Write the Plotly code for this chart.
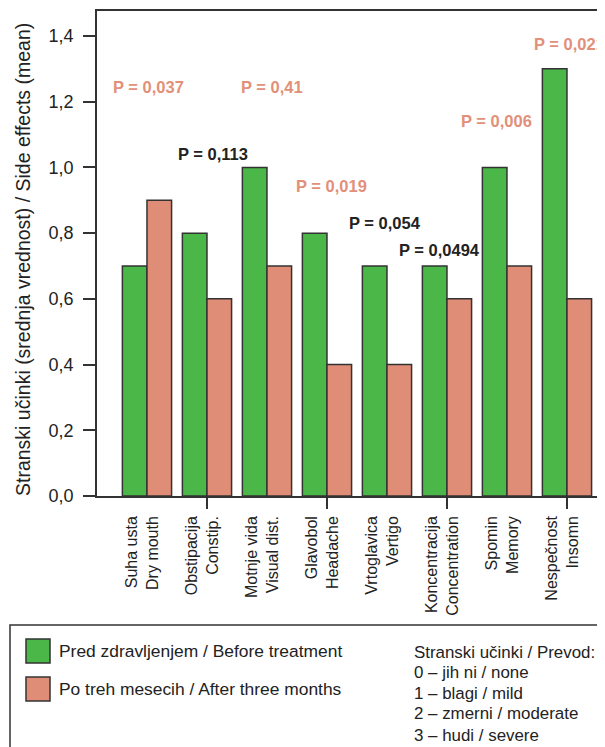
import plotly.graph_objects as go

# ---------------- data ----------------
categories = [
    "Suha usta<br>Dry mouth",
    "Obstipacija<br>Constip.",
    "Motnje vida<br>Visual dist.",
    "Glavobol<br>Headache",
    "Vrtoglavica<br>Vertigo",
    "Koncentracija<br>Concentration",
    "Spomin<br>Memory",
    "Nespečnost<br>Insomn",
]
before = [0.7, 0.8, 1.0, 0.8, 0.7, 0.7, 1.0, 1.3]
after = [0.9, 0.6, 0.7, 0.4, 0.4, 0.6, 0.7, 0.6]
p_labels = ["P = 0,037", "P = 0,113", "P = 0,41", "P = 0,019",
            "P = 0,054", "P = 0,0494", "P = 0,006", "P = 0,021"]
p_highlight = [True, False, True, True, False, False, True, True]
y_ticks = [0.0, 0.2, 0.4, 0.6, 0.8, 1.0, 1.2, 1.4]
legend_before = "Pred zdravljenjem / Before treatment"
legend_after = "Po treh mesecih / After three months"
scale_lines = ["Stranski učinki / Prevod:", "0 – jih ni / none", "1 – blagi / mild",
               "2 – zmerni / moderate", "3 – hudi / severe"]
y_title = "Stranski učinki (srednja vrednost) / Side effects (mean)"

# ---------------- layout constants ----------------
OFF = 8                      # browser body margin
W, H = 605 - OFF, 747 - OFF
L, T = 97 - OFF, 11 - OFF
R = 0
B = H - (496 - OFF)
GREEN = "#4bb748"
SALMON = "#e08d77"
SALMON_TXT = "#e2907a"
DARK = "#333333"
TXT = "#222222"
FONT = "Liberation Sans, Arial, Helvetica, sans-serif"

plot_w = W - L - R
plot_h = H - T - B


def px_x(px):  # page pixel -> paper
    return (px - OFF - L) / plot_w


def px_y(py):
    return (H - B - (py - OFF)) / plot_h


xs = list(range(len(categories)))

fig = go.Figure()
fig.add_trace(go.Bar(x=xs, y=before, marker=dict(color=GREEN, line=dict(color=DARK, width=1.5)),
                     name=legend_before, showlegend=False))
fig.add_trace(go.Bar(x=xs, y=after, marker=dict(color=SALMON, line=dict(color=DARK, width=1.5)),
                     name=legend_after, showlegend=False))
# invisible trace for the secondary tick axis
fig.add_trace(go.Scatter(x=[xs[0]], y=[0], xaxis="x2", mode="markers",
                         marker=dict(opacity=0), showlegend=False, hoverinfo="skip"))

# p-value annotations (positions only)
p_x = [0.017, 1.1, 2.08, 3.07, 3.96, 4.87, 5.83, 7.05]
p_y = [1.245, 1.041, 1.245, 0.943, 0.831, 0.749, 1.141, 1.375]
annotations = []
for t, hl, ax, ay in zip(p_labels, p_highlight, p_x, p_y):
    annotations.append(dict(x=ax, y=ay, xref="x", yref="y", text="<b>" + t + "</b>",
                            showarrow=False, xanchor="center", yanchor="middle",
                            font=dict(family=FONT, size=16.5, color=SALMON_TXT if hl else TXT)))

# y-axis title
annotations.append(dict(x=px_x(23), y=px_y(260), xref="paper", yref="paper", text=y_title,
                        textangle=-90, showarrow=False, xanchor="center", yanchor="middle",
                        font=dict(family=FONT, size=19.5, color=TXT)))

# legend box content
shapes = [
    dict(type="rect", xref="paper", yref="paper", x0=px_x(10), x1=px_x(700),
         y0=px_y(800), y1=px_y(625), line=dict(color=DARK, width=1.5), fillcolor="rgba(0,0,0,0)"),
    dict(type="rect", xref="paper", yref="paper", x0=px_x(26), x1=px_x(50),
         y0=px_y(663), y1=px_y(639), line=dict(color=DARK, width=1.5), fillcolor=GREEN),
    dict(type="rect", xref="paper", yref="paper", x0=px_x(26), x1=px_x(50),
         y0=px_y(701), y1=px_y(677), line=dict(color=DARK, width=1.5), fillcolor=SALMON),
]
for t, py in [(legend_before, 651), (legend_after, 689)]:
    annotations.append(dict(x=px_x(57), y=px_y(py), xref="paper", yref="paper", text=t,
                            showarrow=False, xanchor="left", yanchor="middle",
                            font=dict(family=FONT, size=17.4, color=TXT)))
for t, py in zip(scale_lines, [652, 672, 693, 713, 735]):
    annotations.append(dict(x=px_x(412), y=px_y(py), xref="paper", yref="paper", text=t,
                            showarrow=False, xanchor="left", yanchor="middle",
                            font=dict(family=FONT, size=16.9, color=TXT)))

xrange = [-0.833, -0.833 + plot_w / 60.0]

fig.update_layout(
    width=W, height=H,
    margin=dict(l=L, r=R, t=T, b=B, pad=0),
    paper_bgcolor="white", plot_bgcolor="white",
    barmode="group", bargap=0.18, bargroupgap=0,
    separators=",.",
    font=dict(family=FONT, size=16, color=TXT),
    xaxis=dict(range=xrange, tickmode="array", tickvals=[x - 0.08 for x in xs], ticktext=categories,
               tickangle=-90, ticks="outside", ticklen=12, tickcolor="rgba(0,0,0,0)",
               showline=True, linecolor=DARK, linewidth=1.5, mirror=True,
               showgrid=False, zeroline=False,
               tickfont=dict(family=FONT, size=16, color=TXT)),
    xaxis2=dict(range=xrange, overlaying="x", side="bottom", anchor="y",
                tickmode="array", tickvals=xs[1::2], ticks="outside", ticklen=12,
                tickcolor=DARK, tickwidth=1.5, showticklabels=False,
                showline=False, showgrid=False, zeroline=False),
    yaxis=dict(range=[0, plot_h / 328.57], tickmode="array", tickvals=y_ticks,
               tickformat=".1f", ticks="outside", ticklen=12, tickwidth=1.5, tickcolor=DARK,
               showline=True, linecolor=DARK, linewidth=1.5, mirror=False,
               showgrid=False, zeroline=False, ticklabelstandoff=6,
               tickfont=dict(family=FONT, size=18, color=TXT)),
    annotations=annotations,
    shapes=shapes,
)

fig.write_html("out.html")
